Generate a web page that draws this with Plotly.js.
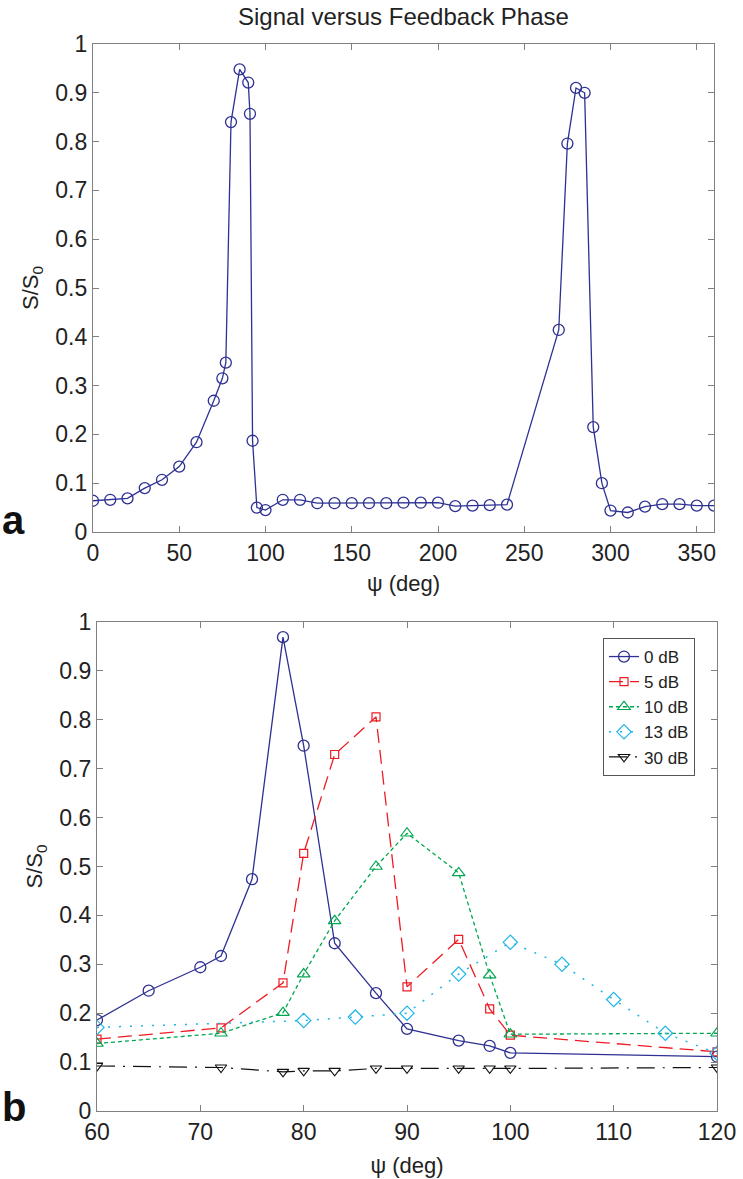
<!DOCTYPE html>
<html>
<head>
<meta charset="utf-8">
<script src="https://cdn.plot.ly/plotly-3.0.1.min.js"></script>
<style>html,body{margin:0;padding:0;background:#fff;}#chart{width:743px;height:1179px;}</style>
</head>
<body>
<div id="chart"></div>
<script>
// ---- Panel a: signal vs feedback phase (0..360 deg)
const phaseA = [0,10,20,30,40,50,60,70,75,77,80,85,90,91,92.5,95,100,110,120,130,140,150,160,170,180,190,200,210,220,230,240,270,275,280,285,290,295,300,310,320,330,340,350,360];
const signalA = [0.064,0.066,0.069,0.090,0.107,0.134,0.184,0.269,0.315,0.347,0.840,0.948,0.921,0.857,0.187,0.050,0.045,0.066,0.066,0.059,0.059,0.059,0.059,0.059,0.060,0.060,0.060,0.053,0.054,0.055,0.056,0.414,0.796,0.910,0.900,0.215,0.100,0.044,0.040,0.052,0.057,0.057,0.054,0.054];

// ---- Panel b: several feedback gains (60..120 deg)
const x0dB = [60,65,70,72,75,78,80,83,87,90,95,98,100,120];
const y0dB = [0.186,0.246,0.294,0.317,0.474,0.969,0.747,0.343,0.241,0.168,0.144,0.133,0.119,0.111];
const x5dB = [60,72,78,80,83,87,90,95,98,100,120];
const y5dB = [0.147,0.170,0.262,0.527,0.729,0.806,0.254,0.351,0.209,0.155,0.121];
const x10dB = [60,72,78,80,83,87,90,95,98,100,120];
const y10dB = [0.138,0.159,0.201,0.280,0.389,0.500,0.568,0.487,0.278,0.157,0.159];
const x13dB = [60,80,85,90,95,100,105,110,115,120];
const y13dB = [0.171,0.185,0.192,0.200,0.280,0.345,0.300,0.228,0.159,0.118];
const x30dB = [60,72,78,80,83,87,90,95,98,100,120];
const y30dB = [0.092,0.089,0.080,0.082,0.082,0.087,0.087,0.087,0.087,0.087,0.089];
const seriesNames = ['0 dB','5 dB','10 dB','13 dB','30 dB'];

const FONT = 'Liberation Sans, Arial, Helvetica, sans-serif';
const W = 743, H = 1179;
const navy = '#2E3192';

const traces = [
  {x: phaseA, y: signalA, xaxis:'x', yaxis:'y', mode:'lines+markers', showlegend:false,
   line:{color:navy, width:1.3}, marker:{symbol:'circle-open', size:11, color:navy, line:{width:1.3, color:navy}}},
  {x: x0dB, y: y0dB, xaxis:'x2', yaxis:'y2', mode:'lines+markers', name:seriesNames[0],
   line:{color:navy, width:1.3}, marker:{symbol:'circle-open', size:11, color:navy, line:{width:1.3, color:navy}}},
  {x: x5dB, y: y5dB, xaxis:'x2', yaxis:'y2', mode:'lines+markers', name:seriesNames[1],
   line:{color:'#ED1C24', width:1.3, dash:'14px,7px'}, marker:{symbol:'square-open', size:8, color:'#ED1C24', line:{width:1.2, color:'#ED1C24'}}},
  {x: x10dB, y: y10dB, xaxis:'x2', yaxis:'y2', mode:'lines+markers', name:seriesNames[2],
   line:{color:'#00A651', width:1.3, dash:'4px,3px'}, marker:{symbol:'triangle-up-open', size:11, color:'#00A651', line:{width:1.2, color:'#00A651'}}},
  {x: x13dB, y: y13dB, xaxis:'x2', yaxis:'y2', mode:'lines+markers', name:seriesNames[3],
   line:{color:'#1EB5E6', width:1.5, dash:'2px,9px'}, marker:{symbol:'diamond-open', size:11, color:'#1EB5E6', line:{width:1.2, color:'#1EB5E6'}}},
  {x: x30dB, y: y30dB, xaxis:'x2', yaxis:'y2', mode:'lines+markers', name:seriesNames[4],
   line:{color:'#111111', width:1.2, dash:'18px,8px,2px,8px'}, marker:{symbol:'triangle-down-open', size:10, color:'#111111', line:{width:1.1, color:'#111111'}}}
];

function ax(extra){
  return Object.assign({
    showline:true, linecolor:'#808080', linewidth:1.2, mirror:'ticks',
    ticks:'inside', ticklen:6, tickcolor:'#808080', tickwidth:1,
    showgrid:false, zeroline:false, fixedrange:true,
    tickfont:{family:FONT, size:23, color:'#222'},
  }, extra);
}

const layout = {
  width:W, height:H, margin:{l:0,r:0,t:0,b:0},
  paper_bgcolor:'#fff', plot_bgcolor:'#fff',
  font:{family:FONT, color:'#222'},
  xaxis: ax({domain:[93/W, 714/W], range:[0,360], dtick:50, tick0:0, anchor:'y',
    title:{text:'\u03c8 (deg)', font:{family:FONT, size:22, color:'#222'}, standoff:10}}),
  yaxis: ax({domain:[1-532/H, 1-44/H], range:[0,1], dtick:0.1, tick0:0, anchor:'x',
    title:{text:'S/S<sub>0</sub>', font:{family:FONT, size:22, color:'#222'}, standoff:10}}),
  xaxis2: ax({domain:[97/W, 717/W], range:[60,120], dtick:10, tick0:60, anchor:'y2',
    title:{text:'\u03c8 (deg)', font:{family:FONT, size:22, color:'#222'}, standoff:13}}),
  yaxis2: ax({domain:[1-1111/H, 1-622/H], range:[0,1], dtick:0.1, tick0:0, anchor:'x2',
    title:{text:'S/S<sub>0</sub>', font:{family:FONT, size:22, color:'#222'}, standoff:10}}),
  showlegend:true,
  legend:{x:603/W, y:1-638/H, xanchor:'left', yanchor:'top', bgcolor:'#fff',
    bordercolor:'#555', borderwidth:1, font:{family:FONT, size:17, color:'#222'},
    itemwidth:30, tracegroupgap:0},
  annotations:[
    {text:'Signal versus Feedback Phase', xref:'paper', yref:'paper', x:403.5/W, y:1-17/H,
     xanchor:'center', yanchor:'middle', showarrow:false, font:{family:FONT, size:24, color:'#222'}},
    {text:'<b>a</b>', xref:'paper', yref:'paper', x:0, y:1-520/H, xanchor:'left', yanchor:'middle',
     showarrow:false, font:{family:FONT, size:40, color:'#111'}},
    {text:'<b>b</b>', xref:'paper', yref:'paper', x:0, y:1-1107/H, xanchor:'left', yanchor:'middle',
     showarrow:false, font:{family:FONT, size:40, color:'#111'}}
  ]
};

Plotly.newPlot('chart', traces, layout, {staticPlot:true, displayModeBar:false});
</script>
</body>
</html>
